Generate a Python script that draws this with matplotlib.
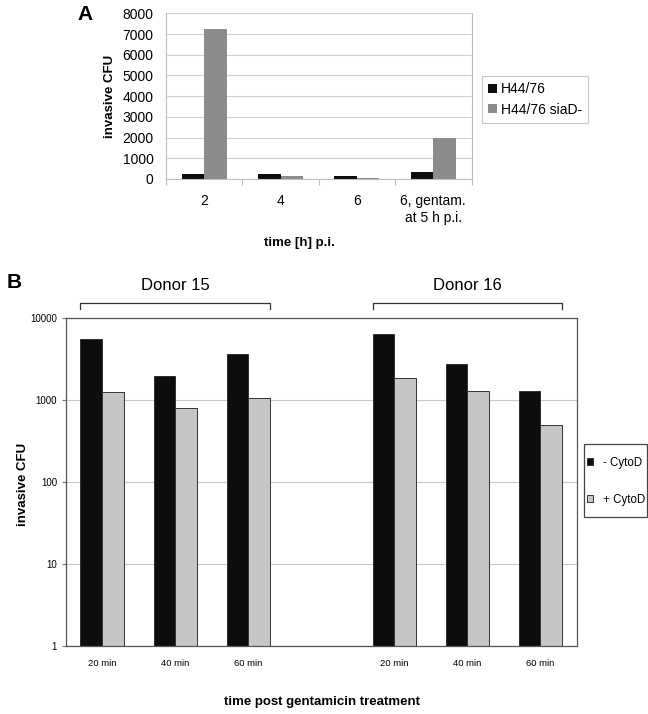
import matplotlib
matplotlib.use("Agg")
import matplotlib.pyplot as plt
import matplotlib.transforms as mtransforms
from matplotlib.patches import Rectangle
from matplotlib.ticker import FixedLocator, NullLocator, NullFormatter
import numpy as np

plt.rcParams["font.family"] = ["Liberation Sans", "DejaVu Sans"]
NARROW = ["Liberation Sans Narrow", "Liberation Sans", "DejaVu Sans"]

# ---------- data ----------
# panel A
a_times = ["2", "4", "6", "6, gentam.\nat 5 h p.i."]
a_wt = [255, 230, 125, 320]          # H44/76
a_siad = [7250, 160, 30, 1960]       # H44/76 siaD-
# panel B
b_times = ["20 min", "40 min", "60 min"]
b_donors = ["Donor 15", "Donor 16"]
d15_minus = [5500, 1980, 3600]
d15_plus = [1240, 810, 1060]
d16_minus = [6350, 2780, 1290]
d16_plus = [1870, 1270, 490]

W, H = 648, 714
fig = plt.figure(figsize=(W / 100, H / 100), dpi=100)

def box(l, t, r, b):
    return [l / W, 1 - b / H, (r - l) / W, (b - t) / H]

BLACK = "#0d0d0d"; GREY_A = "#8c8c8c"; GREY_B = "#c6c6c6"; LINE = "#bfbfbf"

# ===== panel A =====
ax1 = fig.add_axes(box(166, 13.3, 471.5, 179))
x = np.arange(len(a_times)); w = 0.295
ax1.bar(x - w / 2, a_wt, w, color=BLACK, label="H44/76")
ax1.bar(x + w / 2, a_siad, w, color=GREY_A, label="H44/76 siaD-")
ax1.set_xlim(-0.5, len(a_times) - 0.5)
ax1.set_ylim(0, 8000)
ax1.set_yticks(range(0, 8001, 1000))
ax1.set_xticks(x)
ax1.set_xticklabels(a_times, fontsize=10, linespacing=1.25)
ax1.xaxis.set_minor_locator(FixedLocator(np.arange(-0.5, len(a_times), 1.0)))
ax1.tick_params(axis="x", which="major", length=0, pad=11)
ax1.tick_params(axis="x", which="minor", length=4, color=LINE, width=0.8)
ax1.tick_params(axis="y", length=0, pad=9, labelsize=10)
ax1.grid(axis="y", color="#d0d0d0", linewidth=0.8)
ax1.set_axisbelow(True)
for s in ax1.spines.values():
    s.set_color(LINE); s.set_linewidth(0.8)
ax1.spines["top"].set_visible(False)
leg1 = ax1.legend(loc="upper left", bbox_to_anchor=(482 / W, 1 - 76 / H),
                  bbox_transform=fig.transFigure, borderaxespad=0, fontsize=10,
                  handlelength=0.6, handleheight=0.6, handletextpad=0.3,
                  borderpad=0.45, labelspacing=0.45, fancybox=False,
                  framealpha=1, edgecolor="#c8c8c8")
leg1.get_frame().set_linewidth(0.8)
fig.text(110 / W, 1 - 96 / H, "invasive CFU", rotation=90, ha="center",
         va="center", fontsize=9.5, fontweight="bold")
fig.text(299 / W, 1 - 243 / H, "time [h] p.i.", ha="center", va="center",
         fontsize=9.5, fontweight="bold")
fig.text(85 / W, 1 - 15 / H, "A", ha="center", va="center", fontsize=15,
         fontweight="bold")

# ===== panel B =====
ax2 = fig.add_axes(box(65.5, 318, 577, 646))
ax2.set_yscale("log")
pos15 = np.arange(3)
pos16 = np.arange(3) + 4
for pos, minus, plus in ((pos15, d15_minus, d15_plus), (pos16, d16_minus, d16_plus)):
    ax2.bar(pos - w / 2, minus, w, color=BLACK, edgecolor="#222222", lw=0.6,
            label="- CytoD" if pos[0] == 0 else None)
    ax2.bar(pos + w / 2, plus, w, color=GREY_B, edgecolor="#333333", lw=0.7,
            label="+ CytoD" if pos[0] == 0 else None)
ax2.set_xlim(-0.5, 6.5)
ax2.set_ylim(1, 10000)
ax2.yaxis.set_major_locator(FixedLocator([1, 10, 100, 1000, 10000]))
ax2.yaxis.set_minor_locator(NullLocator())
ax2.yaxis.set_minor_formatter(NullFormatter())
ax2.set_yticklabels(["1", "10", "100", "1000", "10000"], family=NARROW, fontsize=7)
ax2.set_xticks(np.concatenate([pos15, pos16]))
ax2.set_xticklabels(b_times + b_times, family=NARROW, fontsize=6.8)
ax2.tick_params(axis="x", length=0, pad=9)
ax2.tick_params(axis="y", length=3, pad=3, color="#777777")
ax2.grid(axis="y", color="#c8c8c8", linewidth=0.8)
ax2.set_axisbelow(True)
for s in ax2.spines.values():
    s.set_color("#555555"); s.set_linewidth(0.9)

# donor brackets
tr = mtransforms.blended_transform_factory(ax2.transData, ax2.transAxes)
for name, pos in zip(b_donors, (pos15, pos16)):
    xl, xr = pos[0] - w, pos[-1] + w
    ax2.plot([xl, xl, xr, xr], [1.027, 1.047, 1.047, 1.027], color="#333333",
             lw=0.9, transform=tr, clip_on=False)
    ax2.text((xl + xr) / 2, 1.10, name, transform=tr, ha="center", va="center",
             fontsize=12)

# legend B: frame drawn by hand (tight sides, tall rows)
fig.patches.append(Rectangle((584 / W, 1 - 517 / H), 63 / W, 73 / H,
                             transform=fig.transFigure, fill=False,
                             edgecolor="#444444", lw=0.9))
leg2 = ax2.legend(loc="upper left", bbox_to_anchor=(587 / W, 1 - 457 / H),
                  bbox_transform=fig.transFigure, borderaxespad=0, borderpad=0,
                  fontsize=8.3, handlelength=0.55, handleheight=0.55,
                  handletextpad=0.8, labelspacing=2.15, frameon=False)
fig.text(23 / W, 1 - 484 / H, "invasive CFU", rotation=90, ha="center",
         va="center", fontsize=9.5, fontweight="bold")
fig.text(322 / W, 1 - 702 / H, "time post gentamicin treatment", ha="center",
         va="center", fontsize=9.5, fontweight="bold")
fig.text(14.5 / W, 1 - 283 / H, "B", ha="center", va="center", fontsize=15,
         fontweight="bold")

fig.savefig("out.png", dpi=100)
